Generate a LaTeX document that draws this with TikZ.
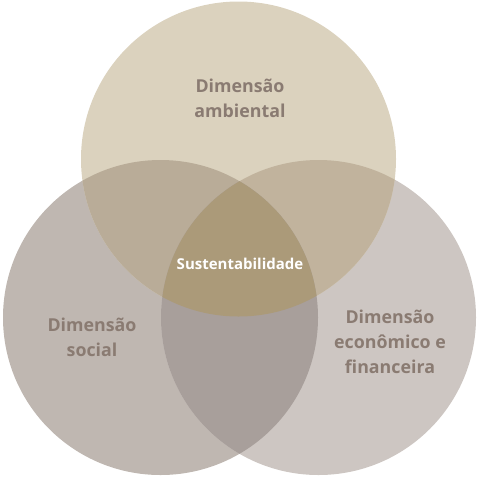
\documentclass[tikz,border=0pt]{standalone}
\usepackage{fontspec}
\setmainfont{Open Sans}
\definecolor{ambcol}{HTML}{DBD2BE}
\definecolor{soccol}{HTML}{BFB7B1}
\definecolor{ecocol}{HTML}{CDC6C2}
\definecolor{ambsoc}{HTML}{B9AC98}
\definecolor{ambeco}{HTML}{C1B39D}
\definecolor{soceco}{HTML}{A89F9B}
\definecolor{centro}{HTML}{AB9A79}
\definecolor{labeltext}{HTML}{8A7B72}
\begin{document}
\begin{tikzpicture}[x=1pt,y=-1pt,
  dimlabel/.style={font=\bfseries\fontsize{17.8}{25}\selectfont, text=labeltext, align=center},
  corelabel/.style={font=\bfseries\fontsize{15}{18}\selectfont, text=white}]
\useasboundingbox (0,0) rectangle (478,477);
\coordinate (amb) at (238.5,159);
\coordinate (soc) at (160.5,317.5);
\coordinate (eco) at (318.5,317.5);
% circles
\foreach \c / \col in {soc/soccol, eco/ecocol, amb/ambcol}
  \fill[\col] (\c) circle (157.5pt);
% overlaps
\begin{scope}
  \clip (amb) circle (157.5pt);
  \fill[ambsoc] (soc) circle (157.5pt);
  \fill[ambeco] (eco) circle (157.5pt);
\end{scope}
\begin{scope}
  \clip (soc) circle (157.5pt);
  \fill[soceco] (eco) circle (157.5pt);
  \clip (eco) circle (157.5pt);
  \fill[centro] (amb) circle (157.5pt);
\end{scope}
% labels
\node[dimlabel] (ambiental) at (240,98) {Dimensão\\ambiental};
\node[dimlabel] (social) at (92,337) {Dimensão\\social};
\node[dimlabel] (economico) at (390,342) {Dimensão\\econômico e\\financeira};
\node[corelabel] (sustent) at (240,264) {Sustentabilidade};
\end{tikzpicture}
\end{document}
